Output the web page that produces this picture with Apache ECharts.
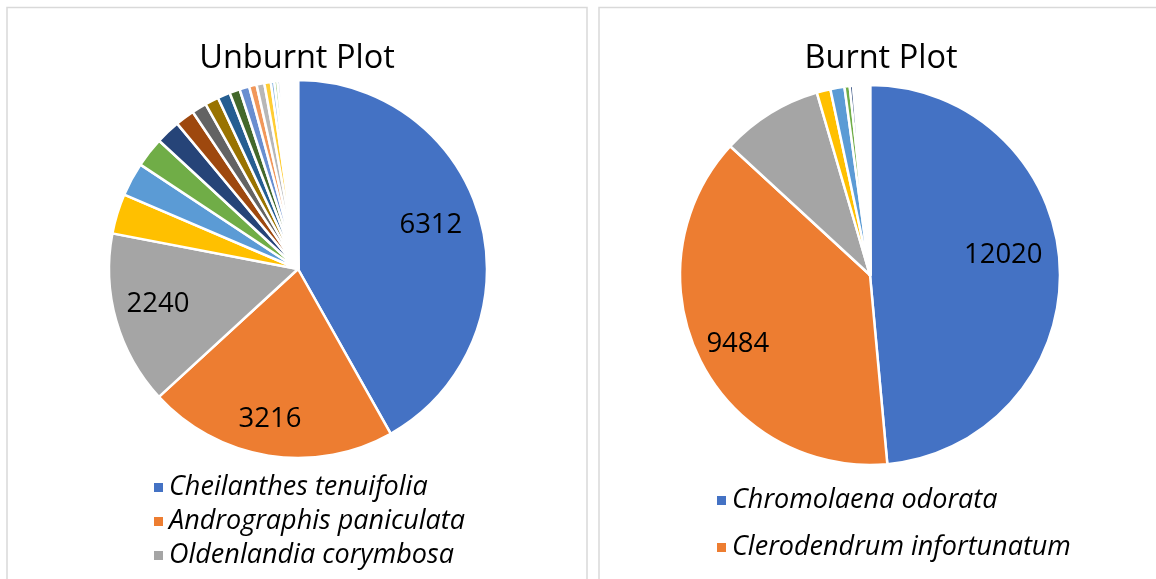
<!DOCTYPE html>
<html>
<head>
<meta charset="utf-8">
<script src="https://cdn.jsdelivr.net/npm/echarts@6/dist/echarts.min.js"></script>
<style>
  html, body { margin: 0; padding: 0; background: #fff; }
  #chart { width: 1156px; height: 579px; }
</style>
</head>
<body>
<div id="chart"></div>
<script>
// Unburnt plot: three named species, then many small ones
const unburntTop = ['Cheilanthes tenuifolia', 'Andrographis paniculata', 'Oldenlandia corymbosa']
const unburntValues = [
  6312, 3216, 2240,
  517, 433, 386, 315, 248, 191, 176, 162, 134, 126, 97, 100, 84,
  45, 40, 35, 30, 25, 22, 20, 18, 16, 14, 12, 10, 9, 8, 7, 6, 5, 5, 4, 4, 3, 3, 2, 2, 1, 1
]
const unburntLabelled = [0, 1, 2]

// Burnt plot
const burntTop = ['Chromolaena odorata', 'Clerodendrum infortunatum']
const burntValues = [
  12020, 9484, 2139, 289, 296, 110, 70,
  30, 25, 22, 20, 18, 17, 16, 15, 14, 13, 12, 12, 11, 10, 10, 9, 9, 8, 8,
  7, 7, 6, 6, 5, 5, 5, 4, 4, 4, 3, 3, 3, 2, 2, 2, 2, 1, 1, 1
]
const burntLabelled = [0, 1]

// unnamed minor species just get a running name
const unburntNames = unburntValues.map((v, i) => unburntTop[i] || 'Unburnt sp. ' + (i + 1))
const burntNames = burntValues.map((v, i) => burntTop[i] || 'Burnt sp. ' + (i + 1))

const palette = [
  '#4472C4', '#ED7D31', '#A5A5A5', '#FFC000', '#5B9BD5', '#70AD47',
  '#264478', '#9E480E', '#636363', '#997300', '#255E91', '#43682B',
  '#698ED0', '#F1975A', '#B7B7B7', '#FFCD33', '#7CAFDD', '#8CC168',
  '#335AA1', '#C65911', '#7B7B7B', '#BF9000', '#327DC2', '#5A8A39',
  '#8FAADC', '#F4B183', '#C9C9C9', '#FFD966'
]

const font = 'Open Sans'

// small nudges so the value labels sit where Excel put them
const unburntNudge = { 0: [-9, -7], 1: [-5, 5], 2: [1, -5] }
const burntNudge = { 0: [-14, -13], 1: [0, 4] }

function pieSeries(names, values, center, radius) {
  return {
    type: 'pie',
    center: center,
    radius: radius,
    startAngle: 90,
    clockwise: true,
    avoidLabelOverlap: false,
    animation: false,
    label: { show: false },
    labelLine: { show: false },
    emphasis: { disabled: true },
    itemStyle: { borderColor: '#fff', borderWidth: 2.5 },
    // each pie restarts the Office colour cycle
    data: names.map((n, i) => ({
      name: n,
      value: values[i],
      itemStyle: { color: palette[i % palette.length] },
    })),
  }
}

// transparent copy of the pie, only used to put the value labels further out
function labelSeries(values, labelled, nudge, center, radius) {
  return {
    type: 'pie',
    center: center,
    radius: [radius * 0.52, radius],
    startAngle: 90,
    clockwise: true,
    silent: true,
    avoidLabelOverlap: false,
    animation: false,
    itemStyle: { color: 'rgba(0,0,0,0)' },
    label: {
      position: 'inside',
      formatter: '{c}',
      color: '#000',
      fontFamily: font,
      fontSize: 27.5,
    },
    labelLine: { show: false },
    emphasis: { disabled: true },
    data: values.map((v, i) => ({
      name: 'lbl' + i,
      value: v,
      label: { show: labelled.indexOf(i) >= 0, offset: nudge[i] || [0, 0] },
    })),
  }
}

const chart = echarts.init(document.getElementById('chart'))

chart.setOption({
  backgroundColor: '#fff',
  title: [
    {
      text: 'Unburnt Plot',
      left: 292,
      top: 37,
      textAlign: 'center',
      textStyle: { fontFamily: font, fontWeight: 'normal', fontSize: 32.5, color: '#000' },
    },
    {
      text: 'Burnt Plot',
      left: 876,
      top: 37,
      textAlign: 'center',
      textStyle: { fontFamily: font, fontWeight: 'normal', fontSize: 32.5, color: '#000' },
    },
  ],
  legend: [
    {
      data: unburntTop,
      orient: 'vertical',
      left: 147,
      top: 469,
      itemWidth: 11,
      itemHeight: 11,
      itemGap: 7,
      icon: 'rect',
      selectedMode: false,
      textStyle: { fontFamily: font, fontStyle: 'italic', fontSize: 27, color: '#000' },
    },
    {
      data: burntTop,
      orient: 'vertical',
      left: 710,
      top: 482,
      itemWidth: 11,
      itemHeight: 11,
      itemGap: 20,
      icon: 'rect',
      selectedMode: false,
      textStyle: { fontFamily: font, fontStyle: 'italic', fontSize: 27, color: '#000' },
    },
  ],
  graphic: [
    {
      type: 'polyline',
      silent: true,
      shape: { points: [[7, 579], [7, 7.5], [587, 7.5], [587, 579]] },
      style: { stroke: '#d9d9d9', lineWidth: 1.5, fill: null },
    },
    {
      type: 'polyline',
      silent: true,
      shape: { points: [[599, 579], [599, 7.5], [1160, 7.5]] },
      style: { stroke: '#d9d9d9', lineWidth: 1.5, fill: null },
    },
  ],
  series: [
    pieSeries(unburntNames, unburntValues, [298, 269], 189),
    pieSeries(burntNames, burntValues, [870, 275], 190),
    labelSeries(unburntValues, unburntLabelled, unburntNudge, [298, 269], 189),
    labelSeries(burntValues, burntLabelled, burntNudge, [870, 275], 190),
  ],
})
</script>
</body>
</html>
